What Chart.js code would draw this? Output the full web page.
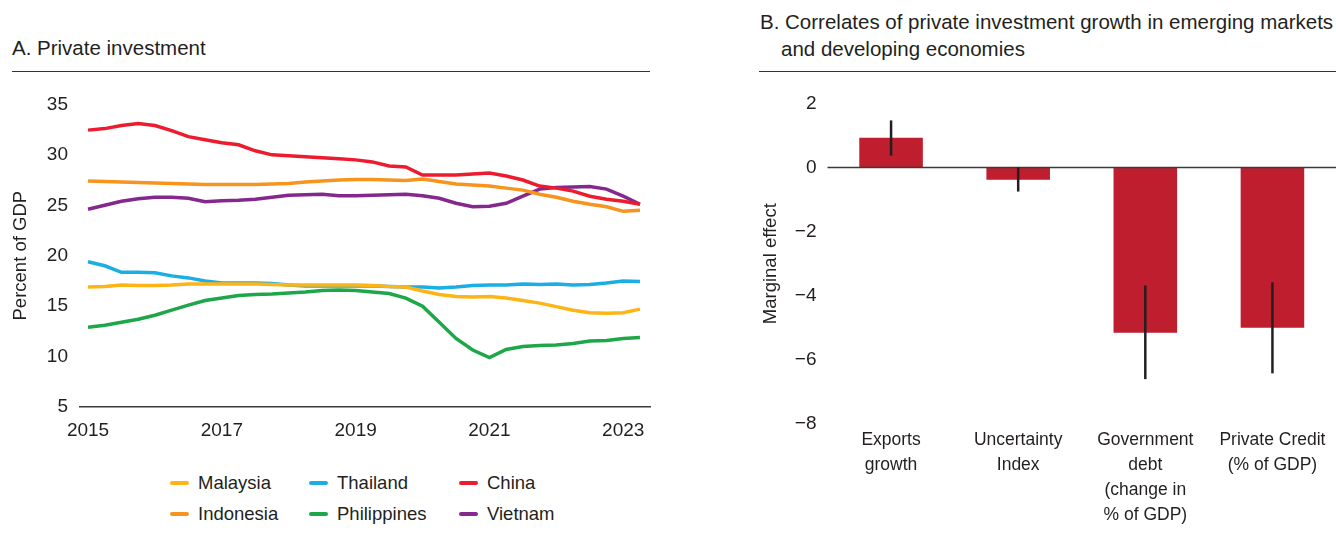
<!DOCTYPE html>
<html>
<head>
<meta charset="utf-8">
<script src="https://cdn.jsdelivr.net/npm/chart.js@4.4.1/dist/chart.umd.min.js"></script>
<style>
  body { margin: 0; background: #fff; font-family: "Liberation Sans", Arial, sans-serif; color: #231f20; }
  #page { position: relative; width: 1336px; height: 534px; overflow: hidden; }
  .title { position: absolute; font-size: 20.5px; line-height: 27px; white-space: nowrap; }
  .rule { position: absolute; height: 0; border-top: 1.5px solid #333; }
  canvas { position: absolute; }
  .legend-item { position: absolute; font-size: 18.5px; line-height: 24px; white-space: nowrap; }
  .legend-item .swatch { position: absolute; left: -28px; top: 10px; width: 19px; height: 4px; border-radius: 2px; }
</style>
</head>
<body>
<div id="page">
  <div class="title" style="left:12px; top:34px;">A. Private investment</div>
  <div class="rule" style="left:12px; top:71px; width:638px;"></div>
  <canvas id="invChart" width="660" height="367" style="left:0; top:81px;"></canvas>
  <div id="legend"></div>

  <div class="title" style="left:760px; top:8px;">B. Correlates of private investment growth in emerging markets</div>
  <div class="title" style="left:781px; top:35px;">and developing economies</div>
  <div class="rule" style="left:759px; top:71px; width:577px;"></div>
  <canvas id="effChart" width="596" height="450" style="left:740px; top:81px;"></canvas>
</div>

<script>
// Panel A: private investment, percent of GDP (quarterly)
const quarters = [
    '2015Q1','2015Q2','2015Q3','2015Q4','2016Q1','2016Q2','2016Q3','2016Q4',
    '2017Q1','2017Q2','2017Q3','2017Q4','2018Q1','2018Q2','2018Q3','2018Q4',
    '2019Q1','2019Q2','2019Q3','2019Q4','2020Q1','2020Q2','2020Q3','2020Q4',
    '2021Q1','2021Q2','2021Q3','2021Q4','2022Q1','2022Q2','2022Q3','2022Q4',
    '2023Q1','2023Q2'
];
const malaysia = [16.9, 16.95, 17.1, 17.05, 17.05, 17.1, 17.2, 17.2, 17.2, 17.2, 17.2, 17.15, 17.1, 17.1, 17.1, 17.1, 17.1, 17.05, 16.95, 16.9, 16.5, 16.15, 15.95, 15.9, 15.95, 15.8, 15.55, 15.3, 14.95, 14.6, 14.35, 14.3, 14.35, 14.7];
const thailand = [19.4, 19.0, 18.35, 18.35, 18.3, 18.0, 17.8, 17.5, 17.3, 17.3, 17.3, 17.25, 17.1, 17.0, 17.0, 17.0, 17.0, 17.0, 16.95, 16.9, 16.9, 16.8, 16.9, 17.05, 17.1, 17.1, 17.2, 17.15, 17.2, 17.1, 17.15, 17.3, 17.5, 17.45];
const china = [32.45, 32.6, 32.9, 33.1, 32.9, 32.4, 31.8, 31.5, 31.2, 31.0, 30.4, 30.0, 29.9, 29.8, 29.7, 29.6, 29.5, 29.3, 28.9, 28.8, 28.0, 28.0, 28.0, 28.1, 28.2, 27.9, 27.5, 26.9, 26.7, 26.4, 25.9, 25.6, 25.4, 25.1];
const indonesia = [27.4, 27.35, 27.3, 27.25, 27.2, 27.15, 27.1, 27.05, 27.05, 27.05, 27.05, 27.1, 27.15, 27.3, 27.4, 27.5, 27.55, 27.55, 27.5, 27.45, 27.6, 27.35, 27.1, 27.0, 26.9, 26.7, 26.5, 26.1, 25.8, 25.4, 25.1, 24.85, 24.4, 24.5];
const philippines = [12.9, 13.1, 13.4, 13.7, 14.1, 14.6, 15.1, 15.55, 15.8, 16.05, 16.15, 16.2, 16.3, 16.4, 16.55, 16.6, 16.55, 16.4, 16.25, 15.8, 15.0, 13.4, 11.8, 10.65, 9.9, 10.7, 11.0, 11.1, 11.15, 11.3, 11.55, 11.6, 11.8, 11.9];
const vietnam = [24.6, 25.0, 25.4, 25.65, 25.8, 25.8, 25.7, 25.35, 25.45, 25.5, 25.6, 25.8, 26.0, 26.05, 26.1, 25.95, 25.95, 26.0, 26.05, 26.1, 25.95, 25.7, 25.2, 24.85, 24.9, 25.2, 25.9, 26.6, 26.75, 26.8, 26.85, 26.6, 25.9, 25.1];

const seriesNames = ['Malaysia', 'Thailand', 'China', 'Indonesia', 'Philippines', 'Vietnam'];
const seriesData = [malaysia, thailand, china, indonesia, philippines, vietnam];
const seriesColors = ['#fdb515', '#1baee5', '#ec1c2e', '#f7941d', '#1da748', '#85288e'];
const yearTicks = [2015, 2017, 2019, 2021, 2023];
const percentTicks = [5, 10, 15, 20, 25, 30, 35];

// Panel B: marginal effects with confidence bands
const factors = [['Exports', 'growth'], ['Uncertainty', 'Index'], ['Government', 'debt', '(change in', '% of GDP)'], ['Private Credit', '(% of GDP)']];
const effects = [0.93, -0.38, -5.15, -5.0];
const errLow = [0.37, -0.75, -6.6, -6.42];
const errHigh = [1.47, 0.0, -3.68, -3.58];
const effectTicks = [2, 0, -2, -4, -6, -8];

const FONT = '"Liberation Sans", Arial, sans-serif';
const INK = '#231f20';

// "2015Q3" -> 2015.5
const toYear = q => Number(q.slice(0, 4)) + (Number(q.slice(5)) - 1) / 4;

// legend (two rows, aligned columns)
const legendPos = [[198, 471], [337, 471], [487, 471], [198, 502], [337, 502], [487, 502]];
const legendBox = document.getElementById('legend');
seriesNames.forEach((name, k) => {
    const item = document.createElement('div');
    item.className = 'legend-item';
    item.style.left = legendPos[k][0] + 'px';
    item.style.top = legendPos[k][1] + 'px';
    item.innerHTML = '<span class="swatch" style="background:' + seriesColors[k] + '"></span>' + name;
    legendBox.appendChild(item);
});

new Chart(document.getElementById('invChart'), {
    type: 'line',
    data: {
        datasets: seriesNames.map((name, k) => ({
            label: name,
            data: quarters.map((q, i) => ({ x: toYear(q), y: seriesData[k][i] })),
            borderColor: seriesColors[k],
            borderWidth: 3.5,
            pointRadius: 0,
            tension: 0,
            fill: false
        }))
    },
    options: {
        responsive: false,
        animation: false,
        layout: { padding: { top: 18, right: 10, left: 0, bottom: 0 } },
        plugins: { legend: { display: false }, tooltip: { enabled: false } },
        scales: {
            x: {
                type: 'linear',
                min: 2014.88,
                max: 2023.4,
                afterBuildTicks: s => { s.ticks = yearTicks.map(v => ({ value: v })); },
                afterFit: s => { s.height = 41; },
                grid: { display: false, drawTicks: false },
                border: { display: true, color: '#3a3a3a', width: 1.5 },
                ticks: { padding: 12, color: INK, font: { size: 19, family: FONT }, autoSkip: false, maxRotation: 0, callback: v => String(v) }
            },
            y: {
                min: 5,
                max: 35,
                afterBuildTicks: s => { s.ticks = percentTicks.map(v => ({ value: v })); },
                afterFit: s => { s.width = 80; },
                grid: { display: false, drawTicks: false },
                border: { display: false },
                ticks: { padding: 12, color: INK, font: { size: 19, family: FONT } },
                title: { display: true, text: 'Percent of GDP', color: INK, font: { size: 18.5, family: FONT }, padding: { top: 10, bottom: 0 } }
            }
        }
    }
});

// zero line + error bars for panel B
const zeroLine = {
    id: 'zeroLine',
    afterDatasetsDraw(chart) {
        const { ctx, chartArea, scales } = chart;
        const y = scales.y.getPixelForValue(0);
        ctx.save();
        ctx.strokeStyle = '#3a3a3a';
        ctx.lineWidth = 1.5;
        ctx.beginPath();
        ctx.moveTo(chartArea.left, y);
        ctx.lineTo(chartArea.right, y);
        ctx.stroke();
        ctx.restore();
    }
};

const errorBars = {
    id: 'errorBars',
    afterDatasetsDraw(chart) {
        const { ctx, scales } = chart;
        const meta = chart.getDatasetMeta(0);
        ctx.save();
        ctx.strokeStyle = INK;
        ctx.lineWidth = 2.5;
        meta.data.forEach((bar, i) => {
            ctx.beginPath();
            ctx.moveTo(bar.x, scales.y.getPixelForValue(errLow[i]));
            ctx.lineTo(bar.x, scales.y.getPixelForValue(errHigh[i]));
            ctx.stroke();
        });
        ctx.restore();
    }
};

new Chart(document.getElementById('effChart'), {
    type: 'bar',
    data: {
        labels: factors,
        datasets: [{
            label: 'Marginal effect',
            data: effects,
            backgroundColor: '#be1e2d',
            barPercentage: 0.5,
            categoryPercentage: 1
        }]
    },
    options: {
        responsive: false,
        animation: false,
        layout: { padding: { top: 19, right: 0, left: 0, bottom: 0 } },
        plugins: { legend: { display: false }, tooltip: { enabled: false } },
        scales: {
            x: {
                afterFit: s => { s.height = 107; },
                grid: { display: false, drawTicks: false },
                border: { display: false },
                ticks: { padding: 4, color: INK, font: { size: 17.5, family: FONT, lineHeight: 1.43 }, autoSkip: false, maxRotation: 0 }
            },
            y: {
                min: -8,
                max: 2,
                afterBuildTicks: s => { s.ticks = effectTicks.map(v => ({ value: v })); },
                afterFit: s => { s.width = 87.5; },
                grid: { display: false, drawTicks: false },
                border: { display: false },
                ticks: { padding: 11, color: INK, font: { size: 19, family: FONT }, callback: v => String(v).replace('-', '\u2212') },
                title: { display: true, text: 'Marginal effect', color: INK, font: { size: 18.5, family: FONT }, padding: { top: 20, bottom: 0 } }
            }
        }
    },
    plugins: [zeroLine, errorBars]
});
</script>
</body>
</html>
